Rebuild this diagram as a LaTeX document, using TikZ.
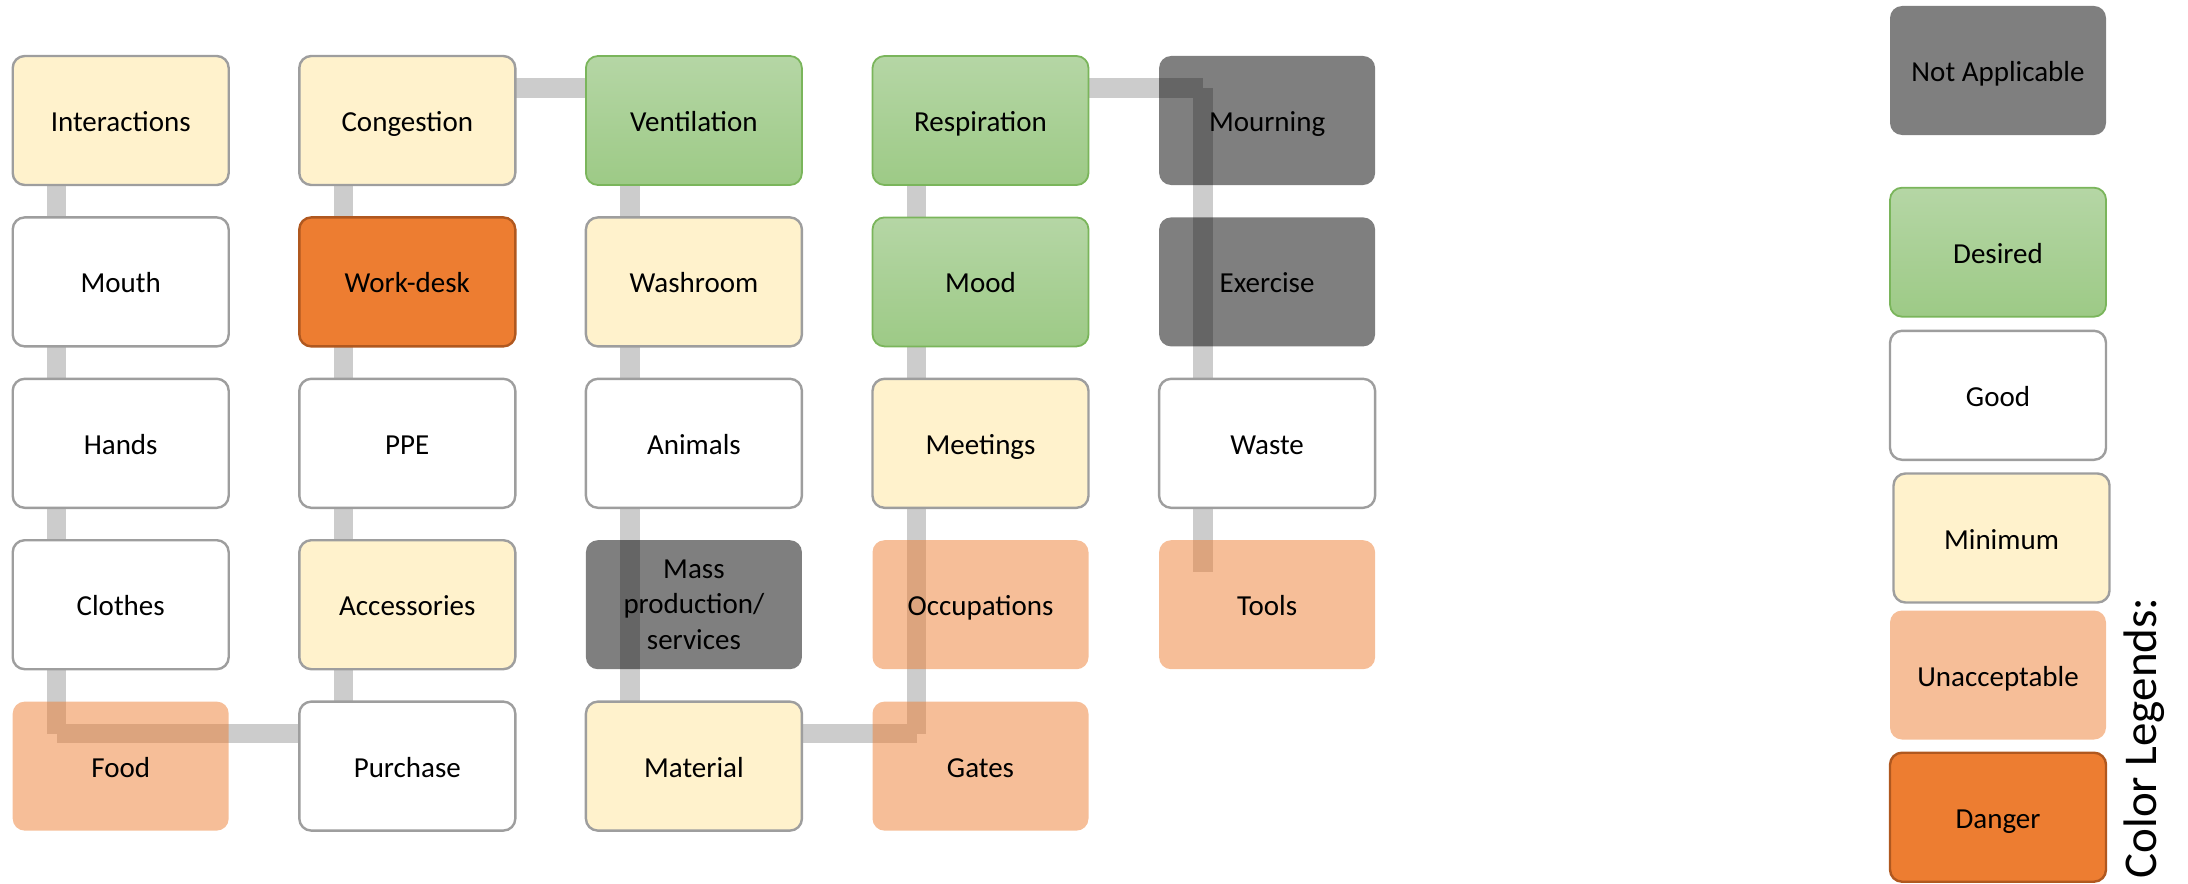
\documentclass[tikz,border=0pt]{standalone}
\usepackage{fontspec}
\setmainfont{Carlito}
\usetikzlibrary{backgrounds}

\definecolor{boxgray}{HTML}{9E9E9E}
\definecolor{connfill}{HTML}{CCCCCC}
\definecolor{minfill}{HTML}{FFF2CC}
\definecolor{greentop}{HTML}{B5D6A5}
\definecolor{greenbot}{HTML}{9DCA86}
\definecolor{greenline}{HTML}{7AB55B}
\definecolor{orangefill}{HTML}{ED7D31}
\definecolor{orangeline}{HTML}{B0581F}

\tikzset{
  box/.style={rectangle, rounded corners=6pt, minimum width=108pt,
    minimum height=64.5pt, inner sep=0pt, align=center, text=black,
    text height=12.5pt, text depth=1.5pt,
    font=\fontsize{14.5}{17.7}\selectfont},
  lvlgood/.style={box, fill=white, draw=boxgray, line width=1.2pt},
  lvlmin/.style={box, fill=minfill, draw=boxgray, line width=1.2pt},
  lvldesired/.style={box, top color=greentop, bottom color=greenbot,
    draw=greenline, line width=0.9pt},
  lvlna/.style={box, fill=black, fill opacity=0.5, text opacity=1},
  lvlbad/.style={box, fill=orangefill, fill opacity=0.5, text opacity=1},
  lvldanger/.style={box, fill=orangefill, draw=orangeline, line width=1.2pt},
  conn/.style={draw=connfill, line width=9.75pt, line cap=butt},
}

% anchor point of a box: 44px in from the left, 32px down from the top
\newcommand{\hook}[1]{\coordinate (#1-p) at ([shift={(-64,-32.5)}]#1.center);}

\begin{document}
\begin{tikzpicture}[x=0.5pt,y=-0.5pt]
\useasboundingbox (0,0) rectangle (2188,883);

% column 1
\node[lvlmin]  (inter)   at (120.7,120.5) {Interactions};
\node[lvlgood] (mouth)   at (120.7,281.9) {Mouth};
\node[lvlgood] (hands)   at (120.7,443.3) {Hands};
\node[lvlgood] (clothes) at (120.7,604.7) {Clothes};
\node[lvlbad]  (food)    at (120.7,766.1) {Food};
% column 2
\node[lvlmin]    (cong)   at (407.3,120.5) {Congestion};
\node[lvldanger] (desk)   at (407.3,281.9) {Work-desk};
\node[lvlgood]   (ppe)    at (407.3,443.3) {PPE};
\node[lvlmin]    (acc)    at (407.3,604.7) {Accessories};
\node[lvlgood]   (purch)  at (407.3,766.1) {Purchase};
% column 3
\node[lvldesired] (vent)  at (693.9,120.5) {Ventilation};
\node[lvlmin]     (wash)  at (693.9,281.9) {Washroom};
\node[lvlgood]    (anim)  at (693.9,443.3) {Animals};
\node[lvlna, text height=, text depth=]
                  (mass)  at (693.9,604.7) {Mass\\production/\\services};
\node[lvlmin]     (mat)   at (693.9,766.1) {Material};
% column 4
\node[lvldesired] (resp)  at (980.5,120.5) {Respiration};
\node[lvldesired] (mood)  at (980.5,281.9) {Mood};
\node[lvlmin]     (meet)  at (980.5,443.3) {Meetings};
\node[lvlbad]     (occ)   at (980.5,604.7) {Occupations};
\node[lvlbad]     (gates) at (980.5,766.1) {Gates};
% column 5
\node[lvlna]   (mourn) at (1267.1,120.5) {Mourning};
\node[lvlna]   (exer)  at (1267.1,281.9) {Exercise};
\node[lvlgood] (waste) at (1267.1,443.3) {Waste};
\node[lvlbad]  (tools) at (1267.1,604.7) {Tools};

% legend
\node[lvlna]      (lgna)   at (1998,70.5)  {Not Applicable};
\node[lvldesired] (lgdes)  at (1998,252.2) {Desired};
\node[lvlgood]    (lggood) at (1998,395.3) {Good};
\node[lvlmin]     (lgmin)  at (2001.5,538) {Minimum};
\node[lvlbad]     (lgbad)  at (1998,675)   {Unacceptable};
\node[lvldanger]  (lgdang) at (1998,817.2) {Danger};
\node[rotate=90, inner sep=0pt, font=\fontsize{23.5}{28}\selectfont]
  (lgtitle) at (2144,738) {Color Legends:};

\foreach \n in {inter,mouth,hands,clothes,food,purch,acc,ppe,desk,cong,
  vent,wash,anim,mass,mat,gates,occ,meet,mood,resp,mourn,exer,waste,tools}
  {\hook{\n}}

% the chain of connectors, behind the boxes
\begin{pgfonlayer}{background}
\foreach \a/\b in {inter/mouth,mouth/hands,hands/clothes,clothes/food,
  food/purch,purch/acc,acc/ppe,ppe/desk,desk/cong,cong/vent,vent/wash,
  wash/anim,anim/mass,mass/mat,mat/gates,gates/occ,occ/meet,meet/mood,
  mood/resp,resp/mourn,mourn/exer,exer/waste,waste/tools}
  {\draw[conn] (\a-p) -- (\b-p);}
\end{pgfonlayer}
\end{tikzpicture}
\end{document}
